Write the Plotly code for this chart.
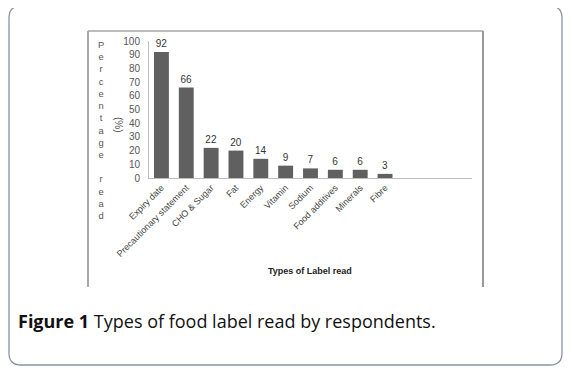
import plotly.graph_objects as go

categories = ["Expiry date", "Precautionary statement", "CHO & Sugar", "Fat", "Energy",
              "Vitamin", "Sodium", "Food additives", "Minerals", "Fibre"]
values = [92, 66, 22, 20, 14, 9, 7, 6, 6, 3]
y_ticks = [0, 10, 20, 30, 40, 50, 60, 70, 80, 90, 100]

# page body has an 8px default margin: the figure starts at (8, 8) in the window
OFF = 8
W, H = 575 - OFF, 375 - OFF

def px(x):
    return (x - OFF) / W

def py(y):
    return 1 - (y - OFF) / H

fig = go.Figure()
fig.add_trace(go.Bar(
    x=list(range(len(categories))), y=values,
    marker=dict(color="#606060", line=dict(width=0)),
    text=[str(v) for v in values], textposition="outside",
    textfont=dict(family="Liberation Sans, Arial, sans-serif", size=10, color="#333333"),
    cliponaxis=False, width=0.6,
))

fig.update_layout(
    template="none",
    width=W, height=H,
    margin=dict(l=0, r=0, t=0, b=0, pad=0),
    paper_bgcolor="white", plot_bgcolor="white",
    showlegend=False,
    xaxis=dict(
        domain=[px(149), px(472)], range=[-0.5, 12.5], automargin=False,
        tickmode="array", tickvals=list(range(len(categories))), ticktext=categories,
        tickangle=-45, showgrid=False, zeroline=False,
        showline=True, linecolor="#bdbdbd", linewidth=1, ticks="",
        tickfont=dict(family="Liberation Sans, Arial, sans-serif", size=9, color="#444444"),
        anchor="y",
    ),
    yaxis=dict(
        domain=[py(178), py(41)], range=[0, 100], automargin=False,
        tickmode="array", tickvals=y_ticks, ticktext=[str(t) for t in y_ticks],
        showgrid=False, zeroline=False,
        showline=True, linecolor="#bdbdbd", linewidth=1, ticks="",
        ticklabelstandoff=6,
        tickfont=dict(family="Liberation Sans, Arial, sans-serif", size=10, color="#555555"),
        anchor="x",
    ),
)

# outer rounded rectangle
x0, y0, x1, y1, r = px(9), py(6), px(562), py(365), 12
rx, ry = r / W, r / H
path = (f"M {x0+rx},{y0} L {x1-rx},{y0} Q {x1},{y0} {x1},{y0-ry} "
        f"L {x1},{y1+ry} Q {x1},{y1} {x1-rx},{y1} L {x0+rx},{y1} "
        f"Q {x0},{y1} {x0},{y1+ry} L {x0},{y0-ry} Q {x0},{y0} {x0+rx},{y0} Z")
fig.add_shape(type="path", xref="paper", yref="paper", path=path,
              line=dict(color="#8a93a6", width=1.3), fillcolor="rgba(0,0,0,0)", layer="below")

# inner chart frame (open at bottom)
fig.add_shape(type="line", xref="paper", yref="paper", x0=px(88), x1=px(483), y0=py(31), y1=py(31),
              line=dict(color="#bcbcbc", width=2))
fig.add_shape(type="line", xref="paper", yref="paper", x0=px(88), x1=px(88), y0=py(31), y1=py(287),
              line=dict(color="#a8a8a8", width=2))
fig.add_shape(type="line", xref="paper", yref="paper", x0=px(483), x1=px(483), y0=py(31), y1=py(287),
              line=dict(color="#999999", width=2))

# stacked vertical y-axis title
letters = list("Percentage") + [" "] + list("read")
fig.add_annotation(xref="paper", yref="paper", x=px(101), y=py(130), xanchor="center", yanchor="middle",
                   text="<br>".join(letters), showarrow=False, align="center",
                   font=dict(family="Liberation Sans, Arial, sans-serif", size=9.4, color="#555555"))
fig.add_annotation(xref="paper", yref="paper", x=px(118), y=py(125), xanchor="center", yanchor="middle",
                   text="(%)", textangle=90, showarrow=False,
                   font=dict(family="Liberation Sans, Arial, sans-serif", size=10, color="#555555"))

# x-axis title
fig.add_annotation(xref="paper", yref="paper", x=px(310), y=py(271), xanchor="center", yanchor="middle",
                   text="<b>Types of Label read</b>", showarrow=False,
                   font=dict(family="Liberation Sans, Arial, sans-serif", size=9, color="#222222"))

# caption
fig.add_annotation(xref="paper", yref="paper", x=px(16), y=py(321), xanchor="left", yanchor="middle",
                   text="<b>Figure 1</b> Types of food label read by respondents.", showarrow=False,
                   font=dict(family="Open Sans, Noto Sans, sans-serif", size=18, color="#111111"))

fig.write_html("out.html", config={"displayModeBar": False})
